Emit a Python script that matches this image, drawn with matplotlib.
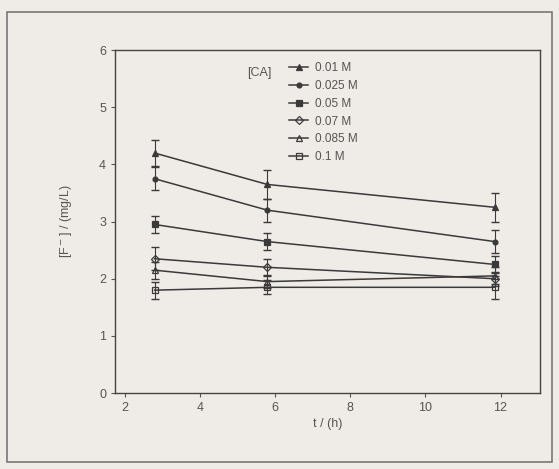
import matplotlib.pyplot as plt
from matplotlib.patches import Rectangle

plt.rcParams['font.family'] = ['Liberation Sans', 'DejaVu Sans']

times = [2.8, 5.8, 11.85]
labels = ['0.01 M', '0.025 M', '0.05 M', '0.07 M', '0.085 M', '0.1 M']
F_001 = [4.2, 3.65, 3.25]
F_0025 = [3.75, 3.2, 2.65]
F_005 = [2.95, 2.65, 2.25]
F_007 = [2.35, 2.2, 2.0]
F_0085 = [2.15, 1.95, 2.05]
F_01 = [1.8, 1.85, 1.85]
err_001 = [0.22, 0.25, 0.25]
err_0025 = [0.2, 0.2, 0.2]
err_005 = [0.15, 0.15, 0.15]
err_007 = [0.2, 0.15, 0.12]
err_0085 = [0.15, 0.12, 0.15]
err_01 = [0.15, 0.12, 0.2]

series = [F_001, F_0025, F_005, F_007, F_0085, F_01]
errors = [err_001, err_0025, err_005, err_007, err_0085, err_01]
markers = ['^', 'o', 's', 'D', '^', 's']
fills = ['#3a3a3a', '#3a3a3a', '#3a3a3a', 'none', 'none', 'none']
sizes = [5, 3.5, 5, 4, 5, 5]

bg = '#efebe6'
ink = '#3a3a3a'
txt = '#555555'

fig = plt.figure(figsize=(5.59, 4.69), dpi=100, facecolor=bg)
ax = fig.add_axes([0.206, 0.162, 0.76, 0.731], facecolor=bg)
fig.patches.append(Rectangle((0.012, 0.015), 0.975, 0.96, transform=fig.transFigure,
                             fill=False, edgecolor='#777777', lw=1.2))

for y, e, m, fc, ms, lab in zip(series, errors, markers, fills, sizes, labels):
    ax.errorbar(times, y, yerr=e, fmt='none', ecolor=ink, capsize=3, elinewidth=0.8)
    ax.plot(times, y, color=ink, lw=1.1, marker=m, ms=ms,
            mfc=fc, mec=ink, mew=0.9, label=lab)

ax.set_xlim(1.75, 13.05)
ax.set_ylim(0, 6)
ax.set_xticks([2, 4, 6, 8, 10, 12])
ax.set_yticks([0, 1, 2, 3, 4, 5, 6])
ax.tick_params(colors=txt, labelsize=9, length=3, width=0.8)
for s in ax.spines.values():
    s.set_color('#444444')
    s.set_linewidth(1.0)
ax.set_xlabel('t / (h)', fontsize=9, color=txt, labelpad=3)
ax.set_ylabel('[F$^-$] / (mg/L)', fontsize=9, color=txt, labelpad=18)

ax.text(0.31, 0.95, '[CA]', transform=ax.transAxes, fontsize=9, color=txt, va='top')
ax.legend(loc='upper left', bbox_to_anchor=(0.39, 0.99), frameon=False, fontsize=8.5,
          handlelength=1.6, handletextpad=0.6, labelspacing=0.5, borderaxespad=0.3,
          labelcolor=txt)

fig.savefig('out.png', dpi=100, facecolor=bg)
